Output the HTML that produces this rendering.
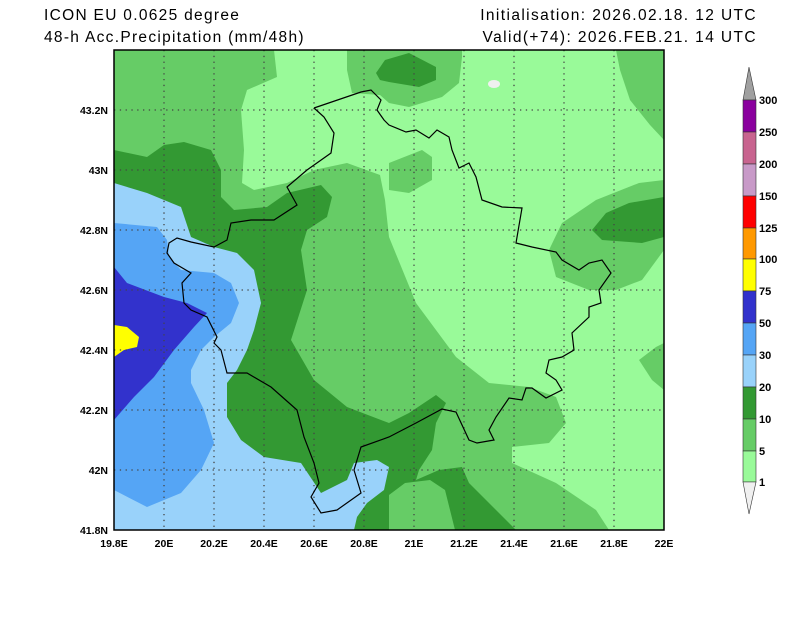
<!DOCTYPE html>
<html><head><meta charset="utf-8"><style>
body{margin:0;background:#fff;width:800px;height:618px;overflow:hidden}
svg text{font-family:"Liberation Sans",sans-serif}
</style></head><body>
<svg width="800" height="618" viewBox="0 0 800 618" xmlns="http://www.w3.org/2000/svg">
<rect width="800" height="618" fill="#fff"/>
<text x="44" y="20" font-size="15.5" fill="#000" letter-spacing="1.3">ICON EU 0.0625 degree</text>
<text x="44" y="42" font-size="15.5" fill="#000" letter-spacing="1.3">48-h Acc.Precipitation (mm/48h)</text>
<text x="757" y="20" font-size="15.5" fill="#000" text-anchor="end" letter-spacing="1.4">Initialisation: 2026.02.18. 12 UTC</text>
<text x="757" y="42" font-size="15.5" fill="#000" text-anchor="end" letter-spacing="1.4">Valid(+74): 2026.FEB.21. 14 UTC</text>
<defs><clipPath id="c"><rect x="114" y="50" width="550" height="480"/></clipPath></defs>
<g clip-path="url(#c)">
<rect x="114" y="50" width="550" height="480" fill="#66cc66"/>
<polygon fill="#99fa99" points="274,50 664,50 664,530 609,530 596,510 556,483 512,463 512,447 549,443 566,423 556,397 529,387 489,383 456,357 416,303 389,237 385,200 380,175 347,163 314,170 287,183 254,190 242,183 244,150 241,110 247,90 277,77"/>
<polygon fill="#66cc66" points="347,50 462,50 462,57 459,83 442,97 409,107 389,103 380,95 352,93 347,70"/>
<polygon fill="#66cc66" points="389,163 422,150 432,157 432,180 409,193 389,190"/>
<polygon fill="#66cc66" points="616,50 664,50 664,140 650,125 630,100 620,70"/>
<polygon fill="#66cc66" points="549,250 562,223 596,200 639,183 664,180 664,250 642,280 616,290 589,290 556,277"/>
<polygon fill="#339933" points="592,230 606,213 629,203 664,197 664,237 642,243 602,240"/>
<polygon fill="#66cc66" points="639,360 656,347 664,343 664,390 652,380"/>
<polygon fill="#339933" points="376,73 385,60 409,53 436,67 436,80 419,87 389,82 380,80"/>
<ellipse cx="494" cy="84" rx="6" ry="4" fill="#f0f0f0"/>
<polygon fill="#339933" points="114,150 147,157 164,145 184,142 211,150 221,170 221,197 234,210 267,207 287,193 321,185 332,197 327,217 307,230 301,250 307,290 291,340 314,380 347,407 389,423 409,413 436,395 446,403 436,423 432,450 419,470 416,480 439,470 462,467 469,483 489,503 509,523 516,530 114,530"/>
<polygon fill="#66cc66" points="389,495 405,483 430,480 445,490 450,510 455,530 389,530"/>
<polygon fill="#99d2fa" points="114,183 147,193 181,207 191,237 214,247 237,253 254,270 261,303 254,330 247,350 237,370 227,383 227,417 241,440 264,457 301,463 321,493 347,480 354,463 377,460 389,467 384,490 367,503 357,517 354,530 114,530"/>
<polygon fill="#55a5f5" points="114,223 157,227 167,240 169,257 181,270 214,273 231,283 239,303 231,323 214,337 201,350 191,370 191,383 204,410 214,443 201,470 181,493 147,507 114,490"/>
<polygon fill="#3232cc" points="114,267 127,283 164,297 187,303 207,313 194,327 174,350 154,377 134,397 114,420"/>
<polygon fill="#ffff00" points="114,325 127,327 139,337 137,347 124,350 114,357"/>
<g stroke="#444" stroke-width="1.3" stroke-dasharray="1.3,4.5">
<line x1="164" y1="50" x2="164" y2="530"/><line x1="214" y1="50" x2="214" y2="530"/><line x1="264" y1="50" x2="264" y2="530"/><line x1="314" y1="50" x2="314" y2="530"/><line x1="364" y1="50" x2="364" y2="530"/><line x1="414" y1="50" x2="414" y2="530"/><line x1="464" y1="50" x2="464" y2="530"/><line x1="514" y1="50" x2="514" y2="530"/><line x1="564" y1="50" x2="564" y2="530"/><line x1="614" y1="50" x2="614" y2="530"/>
<line x1="114" y1="110" x2="664" y2="110"/><line x1="114" y1="170" x2="664" y2="170"/><line x1="114" y1="230" x2="664" y2="230"/><line x1="114" y1="290" x2="664" y2="290"/><line x1="114" y1="350" x2="664" y2="350"/><line x1="114" y1="410" x2="664" y2="410"/><line x1="114" y1="470" x2="664" y2="470"/>
</g>
<polyline fill="none" stroke="#000" stroke-width="1.2" points="314,108 361,92 371,90 381,100 377,110 384,120 389,125 406,132 416,130 429,138 437,130 449,137 452,150 459,168 469,163 476,177 482,200 502,207 522,208 516,243 532,247 556,252 562,260 579,270 589,263 602,260 611,273 599,290 601,303 589,307 589,317 572,333 574,350 562,357 549,360 546,373 556,380 562,390 546,398 532,388 526,388 522,400 509,398 496,417 489,430 494,440 477,443 469,440 456,412 442,409 416,423 389,437 361,447 354,470 361,493 337,510 321,513 311,497 319,483 314,463 304,437 297,410 271,387 247,373 227,373 221,350 214,343 217,337 207,317 191,310 184,303 182,283 191,273 174,263 167,253 169,243 177,238 191,242 214,247 227,240 231,223 251,220 274,220 297,205 287,187 307,170 331,153 334,133 324,117 314,108"/>
</g>
<rect x="114" y="50" width="550" height="480" fill="none" stroke="#000" stroke-width="1.5"/>
<g font-size="10.5" font-weight="bold" fill="#000" text-anchor="end">
<text x="108" y="114">43.2N</text><text x="108" y="174">43N</text><text x="108" y="234">42.8N</text><text x="108" y="294">42.6N</text><text x="108" y="354">42.4N</text><text x="108" y="414">42.2N</text><text x="108" y="474">42N</text><text x="108" y="534">41.8N</text>
</g>
<g font-size="10.5" font-weight="bold" fill="#000" text-anchor="middle">
<text x="114" y="547">19.8E</text><text x="164" y="547">20E</text><text x="214" y="547">20.2E</text><text x="264" y="547">20.4E</text><text x="314" y="547">20.6E</text><text x="364" y="547">20.8E</text><text x="414" y="547">21E</text><text x="464" y="547">21.2E</text><text x="514" y="547">21.4E</text><text x="564" y="547">21.6E</text><text x="614" y="547">21.8E</text><text x="664" y="547">22E</text>
</g>
<g stroke="#333" stroke-width="0.6">
<polygon points="743,100 749,67 756,100" fill="#a0a0a0"/>
<rect x="743" y="100" width="13" height="32" fill="#8a009e"/>
<rect x="743" y="132" width="13" height="32" fill="#c8648f"/>
<rect x="743" y="164" width="13" height="32" fill="#c89ac8"/>
<rect x="743" y="196" width="13" height="32" fill="#ff0000"/>
<rect x="743" y="228" width="13" height="31" fill="#ff9900"/>
<rect x="743" y="259" width="13" height="32" fill="#ffff00"/>
<rect x="743" y="291" width="13" height="32" fill="#3232cc"/>
<rect x="743" y="323" width="13" height="32" fill="#55a5f5"/>
<rect x="743" y="355" width="13" height="32" fill="#99d2fa"/>
<rect x="743" y="387" width="13" height="32" fill="#339933"/>
<rect x="743" y="419" width="13" height="32" fill="#66cc66"/>
<rect x="743" y="451" width="13" height="31" fill="#99fa99"/>
<polygon points="743,482 749,514 756,482" fill="#f0f0f0"/>
</g>
<g font-size="11" font-weight="bold" fill="#000">
<text x="759" y="104">300</text><text x="759" y="136">250</text><text x="759" y="168">200</text><text x="759" y="200">150</text><text x="759" y="232">125</text><text x="759" y="263">100</text><text x="759" y="295">75</text><text x="759" y="327">50</text><text x="759" y="359">30</text><text x="759" y="391">20</text><text x="759" y="423">10</text><text x="759" y="455">5</text><text x="759" y="486">1</text>
</g>
</svg>
</body></html>
